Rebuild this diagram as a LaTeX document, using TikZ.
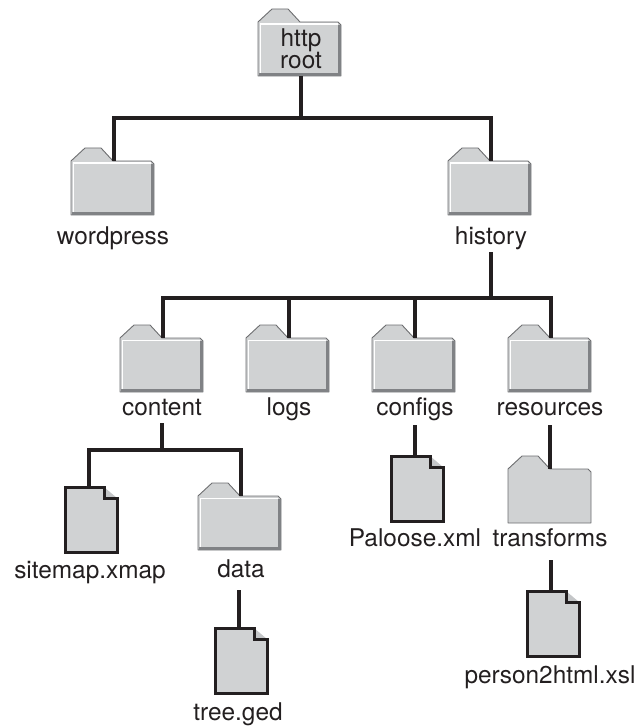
\documentclass[tikz,border=0pt]{standalone}
\usepackage{fontspec}
\setmainfont{TeX Gyre Heros}
\definecolor{ink}{HTML}{231F20}
\definecolor{bodygray}{HTML}{D0D2D3}
\definecolor{edgegray}{HTML}{6D6E70}
\definecolor{bevelgray}{HTML}{808285}
\definecolor{cornergray}{HTML}{C4C6C8}
\tikzset{
  wire/.style={draw=ink,line width=4pt,line cap=butt,line join=miter},
  lbl/.style={inner sep=0pt,font=\fontsize{24.4}{24.4}\selectfont,text=ink,text height=17pt,text depth=8pt,anchor=base},
  iconbox/.style={inner sep=0pt,outer sep=0pt,text=ink,font=\fontsize{24.4}{22}\selectfont},
  foldershape/.style={fill=bodygray,draw=edgegray,line width=.9pt,line join=round},
  fileshape/.style={fill=bodygray,draw=ink,line width=3pt,line join=miter},
}
% folder: name, left, top, text
\newcommand\fldr[4]{%
  \path[foldershape] (#2,#3+13) -- (#2+14,#3) -- (#2+30,#3) -- (#2+42,#3+13) -- (#2+80,#3+13) -- (#2+83,#3+16) -- (#2+83,#3+67) -- (#2,#3+67) -- cycle;
  \draw[white,line width=1.4pt] (#2+2.2,#3+64.5) -- (#2+2.2,#3+15.2) -- (#2+80,#3+15.2);
  \draw[bevelgray,line width=2.4pt] (#2+81.3,#3+16) -- (#2+81.3,#3+65.5) -- (#2+1,#3+65.5);
  \node[iconbox,minimum width=80pt,minimum height=54pt,align=center] (#1) at (#2+43,#3+40) {#4};
}
\newcommand\flatfldr[3]{%
  \path[foldershape] (#2,#3+13) -- (#2+14,#3) -- (#2+30,#3) -- (#2+42,#3+13) -- (#2+80,#3+13) -- (#2+83,#3+16) -- (#2+83,#3+67) -- (#2,#3+67) -- cycle;
  \node[iconbox,minimum width=80pt,minimum height=54pt] (#1) at (#2+43,#3+40) {};
}
% file: name, left, top
\newcommand\fileic[3]{%
  \fill[cornergray] (#2+39,#3) -- (#2+52,#3+11) -- (#2+39,#3+11) -- cycle;
  \path[fileshape] (#2,#3) -- (#2+39,#3) -- (#2+39,#3+11) -- (#2+52,#3+11) -- (#2+52,#3+65) -- (#2,#3+65) -- cycle;
  \node[iconbox,minimum width=48pt,minimum height=65pt] (#1) at (#2+24,#3+32.5) {};
}
\begin{document}
\begin{tikzpicture}[x=1pt,y=-1pt]
\useasboundingbox (0,0) rectangle (638,727);
\coordinate (busA) at (301,118);
\coordinate (busB) at (491,298);
\coordinate (busC) at (162,450);

\fldr{root}{258}{9}{http\\root}
\fldr{wordpress}{71}{148}{}
\fldr{history}{448}{148}{}
\fldr{content}{120}{325}{}
\fldr{logs}{246}{325}{}
\fldr{configs}{372}{325}{}
\fldr{resources}{508}{325}{}
\flatfldr{transforms}{508}{456}
\fldr{data}{198}{483}{}
\fileic{sitemap}{65}{487}
\fileic{paloose}{391}{456}
\fileic{person}{527}{591}
\fileic{tree}{215}{628}

\node[lbl] (wordpress-label) at (113,244) {wordpress};
\node[lbl] (history-label) at (491,244) {history};
\node[lbl] (content-label) at (162,415) {content};
\node[lbl] (logs-label) at (289,415) {logs};
\node[lbl,text depth=10pt] (configs-label) at (415,415) {configs};
\node[lbl,text depth=10pt] (resources-label) at (550,415) {resources};
\node[lbl] (sitemap-label) at (90,578) {sitemap.xmap};
\node[lbl,text depth=13pt] (data-label) at (241,577) {data};
\node[lbl] (paloose-label) at (415,546) {Paloose.xml};
\node[lbl,text depth=14pt] (transforms-label) at (550,546) {transforms};
\node[lbl] (person-label) at (550,683) {person2html.xsl};
\node[lbl] (tree-label) at (238,720) {tree.ged};

\draw[wire] (root.south) -- (busA);
\draw[wire] (wordpress.north) |- (busA) -| (history.north);
\draw[wire] (history-label.south) -- (busB);
\draw[wire] (content.north) |- (busB);
\draw[wire] (logs.north) -- (logs.north |- busB);
\draw[wire] (configs.north) -- (configs.north |- busB);
\draw[wire] (busB) -| (resources.north);
\draw[wire] (content-label.south) -- (busC);
\draw[wire] (sitemap.north) |- (busC) -| (data.north);
\draw[wire] (configs-label.south) -- (paloose.north);
\draw[wire] (resources-label.south) -- (resources-label.south |- transforms.north);
\draw[wire] (transforms-label.south -| person.north) -- (person.north);
\draw[wire] (data-label.south -| tree.north) -- (tree.north);
\end{tikzpicture}
\end{document}
